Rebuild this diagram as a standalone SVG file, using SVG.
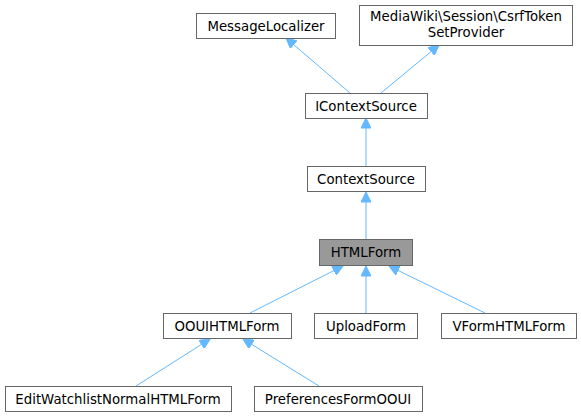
<svg xmlns="http://www.w3.org/2000/svg" width="581" height="417" viewBox="0 0 581 417">
<style>
.n rect{fill:#fff;stroke:#666;stroke-width:1}
.n text{font-family:"DejaVu Sans",sans-serif;font-size:13.3px;fill:#000;text-anchor:middle}
#edges path{fill:none;stroke:#63b8ff;stroke-width:1;marker-end:url(#ah)}
</style>
<defs>
<marker id="ah" viewBox="0 0 10 10" refX="10" refY="5" markerWidth="11" markerHeight="10" markerUnits="userSpaceOnUse" orient="auto">
<path d="M0,0 L10,5 L0,10 z" fill="#63b8ff" stroke="#63b8ff"/>
</marker>
</defs>
<rect width="581" height="417" fill="#fff"/>
<g id="edges">
<path d="M350,93 L286,38"/>
<path d="M381,93 L439,45"/>
<path d="M366,166 L366,118"/>
<path d="M366,239 L366,192"/>
<path d="M250,313 L343,266"/>
<path d="M366,313 L366,266"/>
<path d="M485,313 L389,266"/>
<path d="M136,386 L210,339"/>
<path d="M319,386 L243,339"/>
</g>
<g id="MessageLocalizer" class="n"><rect x="196.5" y="13.5" width="139" height="25"/><text x="266" y="30.5">MessageLocalizer</text></g>
<g id="CsrfTokenSetProvider" class="n"><rect x="359.5" y="5.5" width="213" height="40"/><text x="466" y="21">MediaWiki\Session\CsrfToken</text><text x="466" y="36.5">SetProvider</text></g>
<g id="IContextSource" class="n"><rect x="305.5" y="93.5" width="122" height="25"/><text x="366" y="110.5">IContextSource</text></g>
<g id="ContextSource" class="n"><rect x="307.5" y="166.5" width="118" height="25"/><text x="366" y="183.5">ContextSource</text></g>
<g id="HTMLForm" class="n"><rect x="319.5" y="239.5" width="93" height="26" style="fill:#999"/><text x="366" y="257">HTMLForm</text></g>
<g id="OOUIHTMLForm" class="n"><rect x="163.5" y="313.5" width="128" height="25"/><text x="227" y="330.5">OOUIHTMLForm</text></g>
<g id="UploadForm" class="n"><rect x="314.5" y="313.5" width="103" height="25"/><text x="366" y="330.5">UploadForm</text></g>
<g id="VFormHTMLForm" class="n"><rect x="441.5" y="313.5" width="135" height="25"/><text x="509" y="330.5">VFormHTMLForm</text></g>
<g id="EditWatchlistNormalHTMLForm" class="n"><rect x="5.5" y="386.5" width="226" height="25"/><text x="118" y="403.5">EditWatchlistNormalHTMLForm</text></g>
<g id="PreferencesFormOOUI" class="n"><rect x="254.5" y="386.5" width="168" height="25"/><text x="338" y="403.5">PreferencesFormOOUI</text></g>
</svg>
